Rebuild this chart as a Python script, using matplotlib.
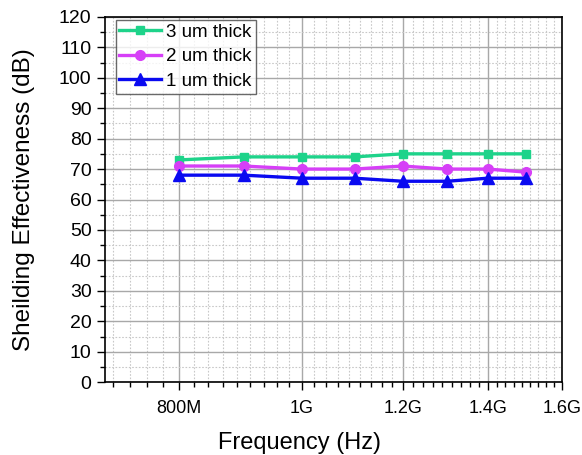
import numpy as np
import matplotlib
matplotlib.use("Agg")
import matplotlib.pyplot as plt
import matplotlib.ticker as tck

plt.rcParams['font.family'] = ['Liberation Sans', 'DejaVu Sans']

# frequency points (Hz) and shielding effectiveness (dB)
freq = [800e6, 900e6, 1.0e9, 1.1e9, 1.2e9, 1.3e9, 1.4e9, 1.5e9]
se_3um = [73, 74, 74, 74, 75, 75, 75, 75]
se_2um = [71, 71, 70, 70, 71, 70, 70, 69]
se_1um = [68, 68, 67, 67, 66, 66, 67, 67]

xticks = [800e6, 1.0e9, 1.2e9, 1.4e9, 1.6e9]
xticklabels = ['800M', '1G', '1.2G', '1.4G', '1.6G']

fig = plt.figure(figsize=(5.82, 4.55), dpi=100)
ax = fig.add_axes([0.180, 0.160, 0.785, 0.803])

ax.plot(freq, se_3um, color='#1ed38a', lw=2.4, marker='s', ms=6, label='3 um thick')
ax.plot(freq, se_2um, color='#d63ff7', lw=2.4, marker='o', ms=7, label='2 um thick')
ax.plot(freq, se_1um, color='#0a0af0', lw=2.4, marker='^', ms=8, label='1 um thick')

ax.set_xscale('log')
ax.set_xlim(700e6, 1.6e9)
ax.set_ylim(0, 120)

ax.xaxis.set_major_locator(tck.FixedLocator(xticks))
ax.xaxis.set_major_formatter(tck.FixedFormatter(xticklabels))
# 8 minor ticks between each pair of majors (step 200M/9)
minor_x = [800e6 + k * 200e6 / 9 for k in range(-4, 36) if k % 9 != 0]
ax.xaxis.set_minor_locator(tck.FixedLocator(minor_x))
ax.xaxis.set_minor_formatter(tck.NullFormatter())

ax.yaxis.set_major_locator(tck.MultipleLocator(10))
ax.yaxis.set_minor_locator(tck.MultipleLocator(5))

ax.grid(which='major', color='#a8a8a8', lw=1.0, ls='-')
ax.grid(which='minor', color='#c8c8c8', lw=0.8, ls=(0, (1.5, 1.5)))
ax.set_axisbelow(True)

ax.tick_params(axis='x', which='major', direction='out', length=6, width=1, labelsize=13, pad=7)
ax.tick_params(axis='x', which='minor', direction='out', length=3.5, width=1)
ax.tick_params(axis='y', which='major', direction='out', length=6, width=1, labelsize=14)
ax.tick_params(axis='y', which='minor', direction='out', length=3.5, width=1)
for s in ax.spines.values():
    s.set_linewidth(1.2)

ax.set_xlabel('Frequency (Hz)', fontsize=17, labelpad=10)
ax.xaxis.set_label_coords(0.426, -0.135)
ax.set_ylabel('Sheilding Effectiveness (dB)', fontsize=17.5, labelpad=17)

leg = ax.legend(loc='upper left', bbox_to_anchor=(0.024, 0.992), fontsize=13.5,
                frameon=True, fancybox=False, edgecolor='#444444', borderpad=0.2,
                labelspacing=0.4, handlelength=2.2, handletextpad=0.3,
                borderaxespad=0.0)
leg.get_frame().set_linewidth(1.0)

fig.savefig('out.png', dpi=100)
